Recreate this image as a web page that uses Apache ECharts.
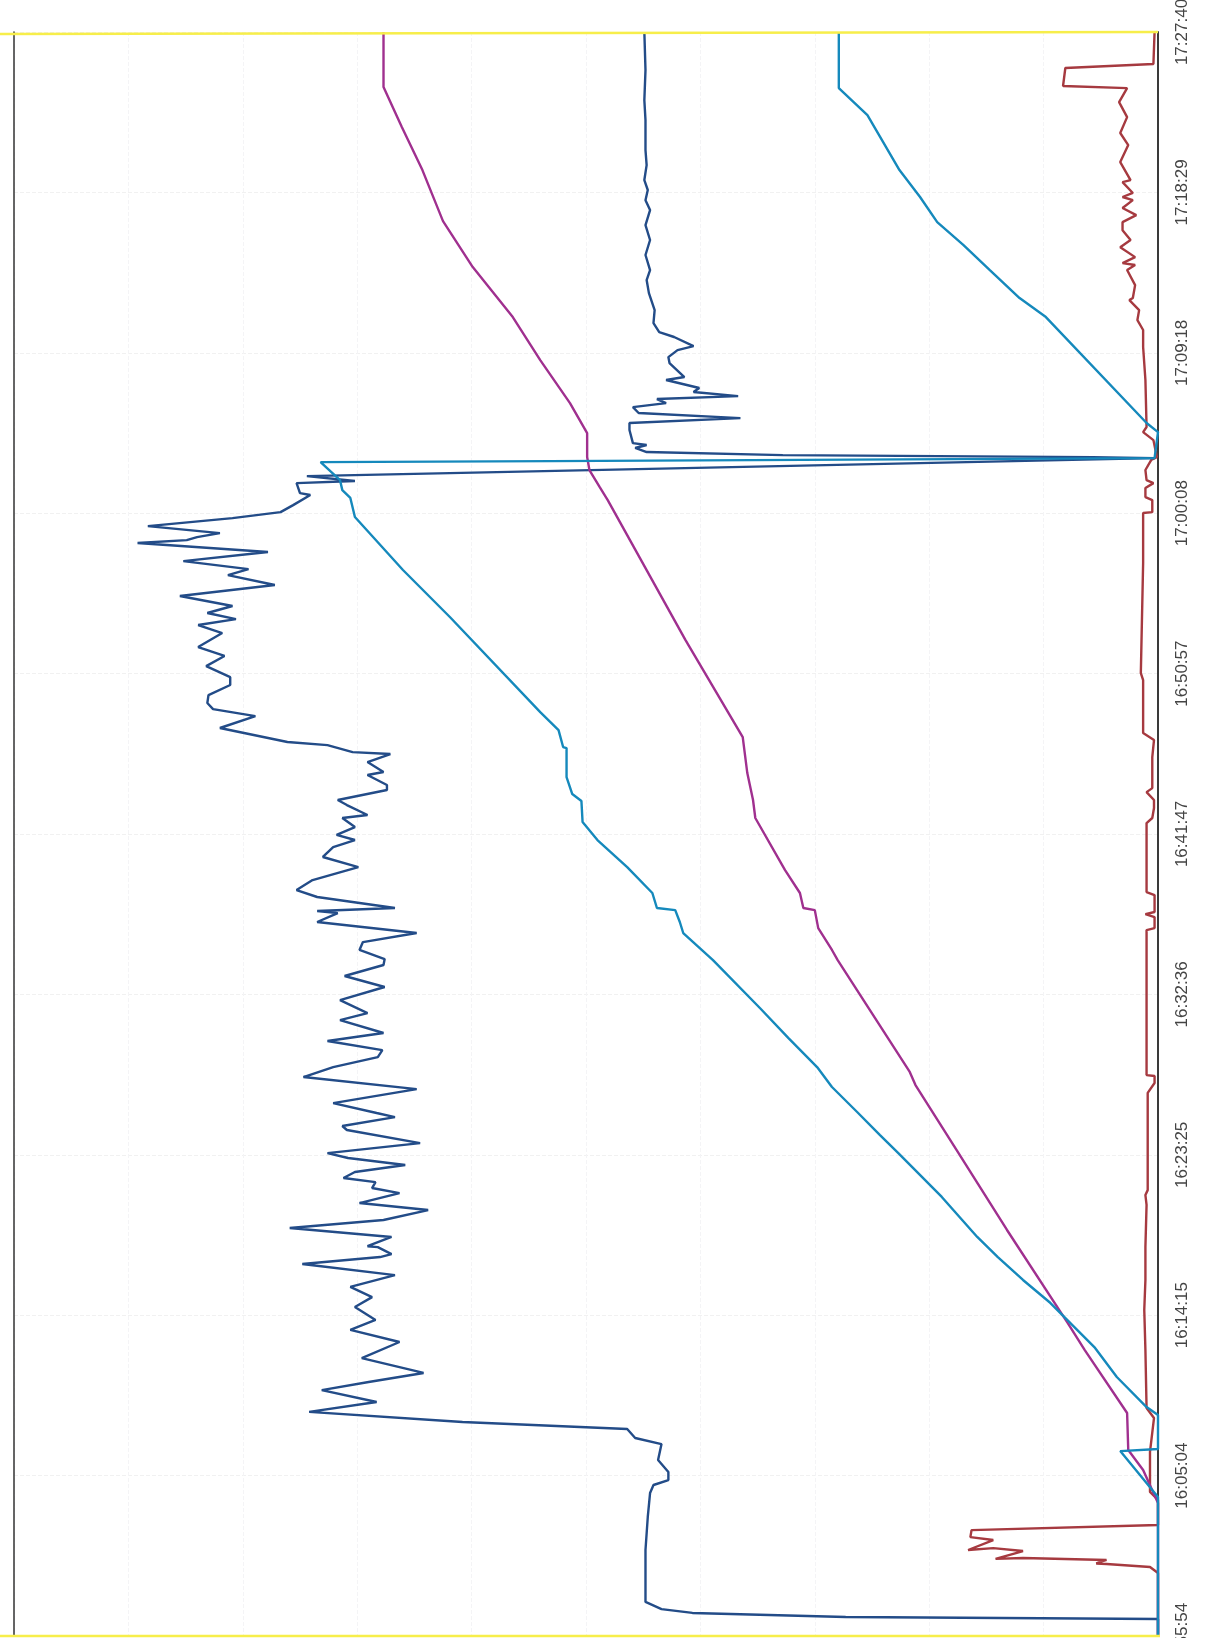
<!DOCTYPE html>
<html lang="en">
<head>
  <meta charset="UTF-8">
  <script src="https://cdn.jsdelivr.net/npm/echarts@6/dist/echarts.min.js"></script>
  <style>
    html, body { margin: 0; padding: 0; background: #fff; }
    #chart { width: 1208px; height: 1638px; }
  </style>
</head>
<body>
  <div id="chart"></div>
  <script>
    // time axis labels, one every 9.177 minutes
    const tickLabels = ['15:55:54', '16:05:04', '16:14:15', '16:23:25', '16:32:36', '16:41:47',
      '16:50:57', '17:00:08', '17:09:18', '17:18:29', '17:27:40'];
    const tickStep = 9.177;

    // times are minutes after 15:55:54, levels are percent of the full scale
    const navyTime = [0, 0.97, 1.09, 1.32, 1.54, 1.95, 4.92, 6.81, 8.18, 8.64, 8.92, 9.38, 10.07, 10.98, 11.33, 11.84, 12.24, 12.82,
      13.39, 14.07, 14.53, 15.05, 15.90, 16.82, 17.51, 18.08, 18.82, 19.39, 19.97, 20.65, 21.28, 21.68, 21.85, 22.25, 22.30, 22.83,
      23.34, 23.80, 24.37, 24.77, 25.34, 25.63, 25.97, 26.20, 26.55, 26.95, 27.35, 27.63, 28.20, 28.95, 29.18, 29.69, 29.92, 30.49,
      31.29, 31.98, 32.55, 33.12, 33.52, 34.04, 34.50, 35.24, 35.64, 36.38, 37.13, 37.76, 38.39, 38.73, 39.25, 39.70, 40.22, 40.85,
      41.36, 41.48, 41.65, 42.28, 42.68, 43.25, 43.99, 44.57, 45.14, 45.54, 45.83, 46.28, 46.80, 46.97, 47.54, 47.83, 48.40, 48.69,
      49.26, 49.43, 50.00, 50.46, 50.57, 50.97, 51.15, 51.95, 52.63, 53.03, 53.38, 53.83, 54.41, 54.86, 55.49, 56.07, 56.58, 57.38,
      57.84, 58.18, 58.53, 58.93, 59.50, 60.13, 60.70, 61.04, 61.50, 62.02, 62.53, 62.70, 62.87, 63.10, 63.50, 63.96, 64.30, 64.70,
      65.28, 65.39, 65.96, 66.08, 66.36, 66.53, 67.39, 67.45, 67.56, 67.74, 67.97, 68.14, 68.25, 69.00, 69.40, 69.68, 69.97, 70.31,
      70.54, 70.77, 70.94, 71.17, 71.40, 71.86, 72.03, 72.83, 73.17, 73.57, 73.80, 74.32, 74.60, 75.12, 75.86, 76.83, 77.58, 78.15,
      79.01, 79.87, 80.72, 81.58, 82.15, 82.73, 83.30, 84.15, 85.01, 86.73, 87.87, 89.59, 91.77];
    const navyLevel = [0, 0, 27.3, 40.7, 43.4, 44.8, 44.8, 44.6, 44.4, 44.1, 42.8, 42.8, 43.7, 43.4, 45.7, 46.4, 60.8, 74.2,
      68.3, 73.1, 69.0, 64.2, 69.6, 66.3, 70.6, 68.4, 70.2, 68.7, 70.6, 66.7, 74.8, 68.0, 67.0, 68.2, 69.1, 67.0,
      75.9, 67.7, 63.8, 69.8, 66.3, 68.7, 68.4, 71.2, 70.2, 65.8, 70.8, 72.6, 64.5, 70.9, 71.3, 66.7, 68.3, 72.1,
      64.8, 74.7, 72.1, 68.2, 67.8, 72.6, 67.7, 71.5, 69.1, 71.5, 67.6, 71.1, 67.7, 67.6, 69.8, 69.5, 64.8, 73.5,
      71.7, 73.5, 66.7, 73.5, 75.3, 73.9, 69.9, 73.0, 72.1, 70.2, 71.8, 70.2, 71.3, 69.1, 70.9, 71.7, 67.4, 67.4,
      69.1, 67.7, 69.1, 67.1, 70.4, 72.6, 76.1, 82.0, 78.9, 82.6, 83.1, 83.0, 81.1, 81.1, 83.2, 81.6, 83.9, 81.8,
      83.9, 80.6, 83.1, 80.9, 85.5, 77.2, 81.3, 79.5, 85.2, 77.8, 89.2, 84.9, 84.0, 82.0, 88.3, 80.9, 76.7, 75.6,
      74.1, 75.0, 75.3, 70.2, 74.4, 61.9, 0.3, 5.7, 32.8, 44.7, 45.7, 44.7, 45.9, 46.2, 46.2, 36.5, 45.4, 45.9,
      43.0, 43.8, 36.7, 40.6, 40.1, 43.0, 41.4, 42.7, 42.8, 42.0, 40.6, 42.3, 43.6, 44.1, 44.0, 44.5, 44.7, 44.4,
      44.8, 44.4, 44.8, 44.4, 44.8, 44.6, 44.9, 44.7, 44.8, 44.8, 44.9, 44.8, 44.9];

    const magentaTime = [0, 7.61, 9.50, 10.64, 12.76, 16.36, 17.91, 23.23, 27.80, 31.52, 32.27, 38.67, 39.25, 40.50, 41.53, 41.65,
      42.51, 43.82, 46.80, 47.83, 49.37, 51.43, 56.98, 64.99, 65.73, 66.71, 67.45, 68.82, 70.54, 73.00, 75.46, 78.32, 80.95, 83.87,
      86.33, 88.62, 91.77];
    const magentaLevel = [0, 0, 1.3, 2.6, 2.7, 6.4, 7.9, 13.2, 17.6, 21.2, 21.7, 28.0, 28.5, 29.7, 30.0, 31.0,
      31.3, 32.6, 35.2, 35.4, 35.9, 36.3, 41.3, 48.1, 48.8, 49.7, 49.9, 49.9, 51.4, 54.0, 56.4, 59.9, 62.5, 64.3,
      66.1, 67.7, 67.7];

    const cyanTime = [0, 7.95, 10.58, 10.70, 11.50, 12.64, 13.10, 14.82, 16.48, 19.05, 20.37, 21.68, 22.83, 25.12, 27.63, 28.66,
      29.98, 31.41, 32.55, 34.21, 35.93, 38.67, 40.22, 40.85, 41.53, 41.65, 42.51, 43.99, 45.54, 46.57, 47.77, 48.17, 49.14, 50.80,
      50.86, 51.83, 52.86, 58.30, 60.99, 64.02, 65.11, 65.56, 66.13, 67.16, 67.22, 67.39, 68.88, 69.40, 75.46, 76.55, 78.15, 79.58,
      80.89, 82.33, 83.87, 87.02, 88.56, 91.77];
    const cyanLevel = [0, 0, 3.3, 0, 0, 0, 1.0, 3.6, 5.5, 9.4, 11.8, 14.0, 15.8, 18.9, 22.7, 24.3,
      26.3, 28.5, 29.8, 32.3, 34.8, 38.9, 41.5, 41.8, 42.2, 43.8, 44.2, 46.4, 49.0, 50.3, 50.4, 51.2, 51.7, 51.7,
      52.0, 52.4, 54.0, 61.9, 66.0, 70.2, 70.6, 71.3, 71.5, 73.2, 53.1, 0.3, 0, 1.0, 9.8, 12.1, 14.7, 17.0,
      19.3, 20.8, 22.6, 25.4, 27.9, 27.9];

    const redTime = [0, 3.60, 3.95, 4.12, 4.15, 4.35, 4.46, 4.41, 4.86, 5.03, 4.92, 5.49, 5.66, 6.06, 6.35, 7.78, 8.24, 10.53, 12.47,
      13.04, 16.36, 18.65, 20.37, 22.25, 24.66, 25.23, 25.51, 31.07, 31.64, 32.04, 32.09, 37.53, 39.25, 40.39, 40.50, 41.13, 41.30,
      41.42, 42.39, 42.56, 46.51, 46.80, 47.37, 47.83, 48.28, 48.51, 50.29, 51.26, 51.66, 52.40, 54.69, 55.09, 61.39, 62.70, 63.67,
      64.25, 64.30, 64.99, 65.16, 65.68, 65.96, 66.13, 66.71, 67.28, 67.45, 68.42, 68.88, 69.17, 71.86, 73.75, 74.72, 75.29, 75.86,
      76.43, 76.55, 77.29, 78.15, 78.44, 78.55, 78.89, 79.46, 79.87, 80.43, 80.89, 81.29, 81.70, 82.15, 82.33, 82.56, 83.18, 83.30,
      84.33, 85.30, 85.99, 86.90, 87.76, 88.56, 88.68, 89.71, 89.94, 91.77];
    const redLevel = [0, 0, 0.7, 4.5, 5.4, 4.5, 11.8, 14.2, 11.8, 14.4, 16.6, 14.4, 16.4, 16.3, 0, 0, 0.7, 0.7, 0.35,
      1.0, 1.1, 1.2, 1.1, 1.1, 1.0, 1.1, 0.9, 0.9, 0.3, 0.3, 1.0, 1.0, 1.0, 1.0, 0.3, 0.3, 1.1,
      0.3, 0.3, 1.0, 1.0, 0.5, 0.35, 0.35, 1.0, 0.5, 0.5, 0.35, 1.3, 1.3, 1.3, 1.5, 1.3, 1.3, 1.3,
      1.3, 0.5, 0.5, 1.1, 1.1, 0.4, 1.0, 1.1, 0.6, 0.1, 0.4, 1.3, 1.0, 1.1, 1.3, 1.3, 1.8, 1.65,
      2.5, 2.2, 2.0, 2.7, 2.0, 3.1, 2.0, 3.3, 2.4, 3.1, 3.1, 1.9, 3.1, 2.2, 3.1, 2.2, 3.1, 2.4,
      3.3, 2.6, 3.3, 2.7, 3.4, 2.7, 8.3, 8.1, 0.4, 0.3];

    const pairs = (levels, times) => levels.map((v, i) => [v, times[i]]);
    const makeLine = (name, levels, times, color) => ({
      name: name,
      type: 'line',
      data: pairs(levels, times),
      showSymbol: false,
      animation: false,
      lineStyle: { color: color, width: 2.4 },
      itemStyle: { color: color }
    });

    const chart = echarts.init(document.getElementById('chart'), null, { renderer: 'canvas' });
    chart.setOption({
      backgroundColor: '#ffffff',
      animation: false,
      // labels run past the page edge in the original, so no shrinking to fit them
      grid: { left: 14, right: 50, top: 32, bottom: 2, outerBoundsMode: 'none' },
      xAxis: {
        type: 'value',
        inverse: true,
        min: 0,
        max: 100,
        interval: 10,
        axisLine: { show: false },
        axisTick: { show: false },
        axisLabel: { show: false },
        splitLine: { show: true, lineStyle: { color: '#f4f4f6', width: 1, type: 'dashed' } }
      },
      yAxis: [
        {
          type: 'value',
          position: 'right',
          min: 0,
          max: tickStep * 10,
          interval: tickStep,
          axisLine: { show: true, onZero: false, lineStyle: { color: '#3a3a3a', width: 2 } },
          axisTick: { show: false },
          axisLabel: {
            show: true,
            rotate: 90,
            margin: 16,
            fontSize: 17,
            color: '#444444',
            fontFamily: 'Liberation Sans',
            showMinLabel: true,
            showMaxLabel: true,
            formatter: v => tickLabels[Math.round(v / tickStep)]
          },
          splitLine: { show: true, lineStyle: { color: '#f1f1f1', width: 1, type: 'dashed' } }
        },
        {
          type: 'value',
          position: 'left',
          min: 0,
          max: tickStep * 10,
          interval: tickStep,
          axisLine: { show: true, onZero: false, lineStyle: { color: '#333333', width: 1.5 } },
          axisTick: { show: false },
          axisLabel: { show: false },
          splitLine: { show: false }
        }
      ],
      series: [
        makeLine('red', redLevel, redTime, '#a63a40'),
        makeLine('navy', navyLevel, navyTime, '#234c88'),
        makeLine('magenta', magentaLevel, magentaTime, '#a0308f'),
        makeLine('cyan', cyanLevel, cyanTime, '#1589bc')
      ],
      // the yellow marker strokes on the scanned page
      graphic: [
        { type: 'line', shape: { x1: 0, y1: 34, x2: 1158, y2: 32 }, style: { stroke: '#f7ee4a', lineWidth: 2.5 }, z: 10 },
        { type: 'line', shape: { x1: 0, y1: 1636, x2: 1160, y2: 1636 }, style: { stroke: '#f7ee4a', lineWidth: 2.5 }, z: 10 }
      ]
    });
  </script>
</body>
</html>
